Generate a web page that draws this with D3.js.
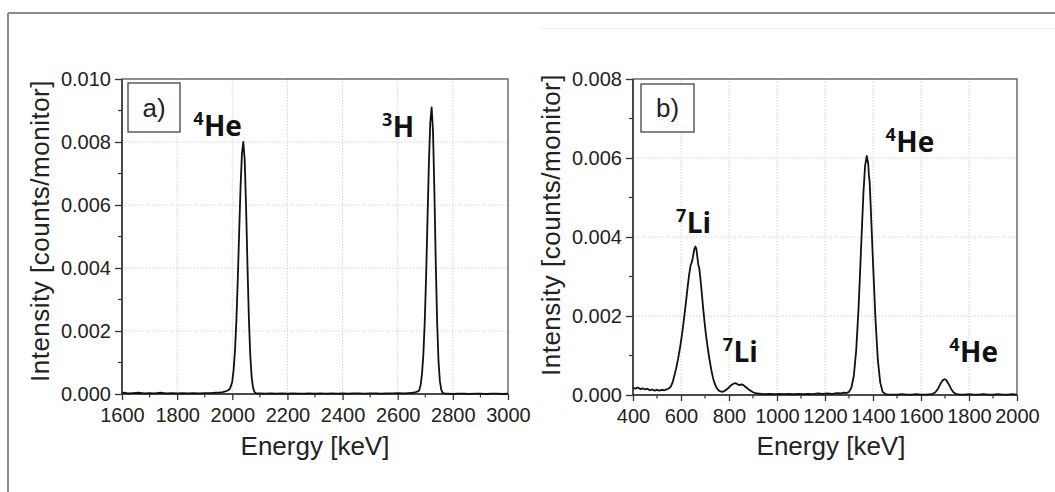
<!DOCTYPE html>
<html><head><meta charset="utf-8">
<script src="https://cdn.jsdelivr.net/npm/d3@7"></script>
<style>
html,body{margin:0;padding:0;background:#fff;}
svg{display:block;}
</style></head>
<body>
<svg id="chart" width="1055" height="492"></svg>
<script>
// ---------- DATA ----------
// Panel a) spectrum
const aEnergy = [1600,1610,1620,1640,1660,1680,1700,1720,1740,1760,1780,1800,1820,1840,1860,1880,1900,1920,1940,1955,1965,1975,1985,
  1990,1995,2000,2005,2010,2015,2020,2025,2030,2035,2040,2045,2050,2055,2060,2065,2070,2075,2080,2085,2090,
  2100,2120,2140,2160,2180,2200,2220,2240,2260,2280,2300,2320,2340,2360,2380,2400,2420,2440,2460,2480,2500,2520,2540,2560,2580,2600,2620,2640,2655,2665,2673,
  2678,2683,2688,2693,2698,2703,2708,2713,2718,2723,2728,2733,2738,2743,2748,2753,2758,2763,2770,
  2780,2800,2820,2840,2860,2880,2900,2920,2940,2960,2980,3000];
const aIntensity = [0.00003,0.00004,0.00002,0.00003,0.00004,0.00002,0.00003,0.00002,0.00004,0.00002,0.00003,0.00002,0.00003,0.00002,0.00003,0.00002,0.00003,0.00003,0.00004,0.00005,0.00006,0.00008,0.00012,
  0.00015,0.00025,0.00040,0.00078,0.00140,0.00236,0.00366,0.00515,0.00658,0.00762,0.00800,0.00743,0.00595,0.00411,0.00245,0.00126,0.00056,0.00021,0.00007,0.00003,0.00002,
  0.00002,0.00001,0.00002,0.00001,0.00002,0.00001,0.00002,0.00001,0.00001,0.00002,0.00001,0.00002,0.00001,0.00002,0.00001,0.00002,0.00001,0.00002,0.00002,0.00001,0.00002,0.00002,0.00001,0.00002,0.00002,0.00003,0.00002,0.00003,0.00004,0.00006,0.00008,
  0.00012,0.00028,0.00062,0.00125,0.00228,0.00374,0.00552,0.00729,0.00861,0.00910,0.00834,0.00643,0.00417,0.00227,0.00104,0.00040,0.00013,0.00004,0.00001,
  0.00001,0.00000,0.00001,0.00001,0.00000,0.00001,0.00001,0.00000,0.00001,0.00001,0.00000,0.00001];

// Panel b) spectrum
const bEnergy = [400,410,420,430,440,450,460,470,480,490,500,510,520,530,540,550,558,565,572,580,588,596,604,612,620,628,634,640,645,650,655,660,664,668,672,676,680,686,692,698,704,710,716,722,728,734,740,746,752,758,765,772,
  780,788,796,804,812,820,828,836,844,852,860,868,876,884,892,900,910,920,935,950,970,990,1010,1030,1050,1070,1090,1110,1130,1150,1170,1190,1210,1230,1250,1265,1280,1290,
  1300,1310,1320,1330,1340,1350,1360,1367,1374,1380,1383,1386,1390,1400,1410,1420,1430,1440,1450,1460,1480,1500,1520,1540,1560,1580,1600,1620,1640,
  1650,1660,1670,1680,1690,1698,1705,1715,1725,1735,1745,1760,1780,1800,1820,1840,1860,1880,1900,1920,1940,1960,1980,2000];
const bIntensity = [0.00018,0.00016,0.00019,0.00015,0.00017,0.00014,0.00016,0.00012,0.00014,0.00011,0.00013,0.00011,0.00013,0.00012,0.00014,0.00017,0.00022,0.00032,0.00048,0.00068,0.00092,0.00120,0.00152,0.00190,0.00232,0.00275,0.00305,0.00328,0.00336,0.00350,0.00368,0.00376,0.00370,0.00350,0.00330,0.00322,0.00300,0.00262,0.00222,0.00185,0.00152,0.00125,0.00100,0.00078,0.00058,0.00042,0.00030,0.00021,0.00015,0.00011,0.00009,0.00008,
  0.00010,0.00013,0.00017,0.00022,0.00026,0.00029,0.00030,0.00027,0.00025,0.00027,0.00025,0.00021,0.00017,0.00013,0.00010,0.00007,0.00005,0.00004,0.00003,0.00002,0.00003,0.00002,0.00003,0.00002,0.00003,0.00002,0.00003,0.00002,0.00003,0.00002,0.00004,0.00003,0.00004,0.00003,0.00005,0.00004,0.00006,0.00005,
  0.00008,0.00019,0.00048,0.00113,0.00222,0.00367,0.00510,0.00580,0.00605,0.00586,0.00555,0.00540,0.00484,0.00336,0.00196,0.00090,0.00032,0.00008,0.00003,0.00001,0.00001,0.00001,0.00002,0.00001,0.00001,0.00002,0.00001,0.00001,0.00002,
  0.00003,0.00007,0.00015,0.00027,0.00037,0.00040,0.00038,0.00028,0.00016,0.00007,0.00003,0.00001,0.00001,0.00002,0.00001,0.00001,0.00002,0.00001,0.00001,0.00002,0.00001,0.00001,0.00002,0.00001];

// Axis ticks and labels
const aXTicks = [1600,1800,2000,2200,2400,2600,2800,3000];
const aYTicks = [0,0.002,0.004,0.006,0.008,0.010];
const bXTicks = [400,600,800,1000,1200,1400,1600,1800,2000];
const bYTicks = [0,0.002,0.004,0.006,0.008];
const xTitle = "Energy [keV]";
const yTitle = "Intensity [counts/monitor]";
const panelTags = ["a)","b)"];

// Peak annotations: [mass number, element, energy, intensity of baseline]
const aPeakLabels = [["4","He",1858,0.00819],["3","H",2543,0.00817]];
const bPeakLabels = [["7","Li",579,0.00410],["7","Li",774,0.00083],["4","He",1452,0.00615],["4","He",1718,0.00083]];

// ---------- DRAW ----------
const svg = d3.select("#chart");
const SANS = "'Liberation Sans', Arial, Helvetica, sans-serif";
const BOLD = "'Open Sans', 'Noto Sans', sans-serif";

// outer frame lines
svg.append("line").attr("x1",8).attr("x2",1055).attr("y1",13).attr("y2",13).attr("stroke","#8a8a8a").attr("stroke-width",2);
svg.append("line").attr("x1",8).attr("x2",8).attr("y1",13).attr("y2",492).attr("stroke","#8a8a8a").attr("stroke-width",2);
svg.append("line").attr("x1",540).attr("x2",1055).attr("y1",28.5).attr("y2",28.5).attr("stroke","#f0f0f0").attr("stroke-width",1);

function panel(cfg){
  const {x0,x1,y0,y1,xDom,yDom,xTicks,yTicks,xMinorStep,yMinorStep,energy,intensity,labels,tag,tagBox,yTitlePos,xTitlePos} = cfg;
  const x = d3.scaleLinear().domain(xDom).range([x0,x1]);
  const y = d3.scaleLinear().domain(yDom).range([y1,y0]);
  const g = svg.append("g");

  // grid
  g.selectAll(".gx").data(xTicks.filter(v=>v>xDom[0]&&v<xDom[1])).join("line")
    .attr("x1",d=>x(d)).attr("x2",d=>x(d)).attr("y1",y0).attr("y2",y1)
    .attr("stroke","#d4d4d4").attr("stroke-width",1).attr("stroke-dasharray","1.5,1.5");
  g.selectAll(".gy").data(yTicks.filter(v=>v>yDom[0]&&v<yDom[1]-1e-9)).join("line")
    .attr("x1",x0).attr("x2",x1).attr("y1",d=>y(d)).attr("y2",d=>y(d))
    .attr("stroke","#d4d4d4").attr("stroke-width",1).attr("stroke-dasharray","1.5,1.5");

  // minor ticks
  const xMinor = d3.range(xDom[0], xDom[1]+1e-9, xMinorStep).filter(v=>!xTicks.some(t=>Math.abs(t-v)<1e-6));
  g.selectAll(".mx").data(xMinor).join("line")
    .attr("x1",d=>x(d)).attr("x2",d=>x(d)).attr("y1",y1).attr("y2",y1+3.5)
    .attr("stroke","#333").attr("stroke-width",1.2);
  const yMinor = d3.range(yDom[0], yDom[1]+1e-9, yMinorStep).filter(v=>!yTicks.some(t=>Math.abs(t-v)<1e-9));
  g.selectAll(".my").data(yMinor).join("line")
    .attr("x1",x0-4).attr("x2",x0).attr("y1",d=>y(d)).attr("y2",d=>y(d))
    .attr("stroke","#333").attr("stroke-width",1.2);

  // axes
  const ax = g.append("g").attr("transform",`translate(0,${y1})`)
    .call(d3.axisBottom(x).tickValues(xTicks).tickSize(6).tickPadding(8).tickFormat(d3.format("d")));
  const ay = g.append("g").attr("transform",`translate(${x0},0)`)
    .call(d3.axisLeft(y).tickValues(yTicks).tickSize(7).tickPadding(4).tickFormat(d3.format(".3f")));
  [ax,ay].forEach(a=>{
    a.select(".domain").remove();
    a.selectAll(".tick line").attr("stroke","#333").attr("stroke-width",1.3);
    a.selectAll(".tick text").attr("fill","#222").style("font-family",SANS).style("font-size","20px");
  });

  // frame
  g.append("rect").attr("x",x0).attr("y",y0).attr("width",x1-x0).attr("height",y1-y0)
    .attr("fill","none").attr("stroke","#555").attr("stroke-width",1.3);
  g.append("line").attr("x1",x0).attr("x2",x1).attr("y1",y1).attr("y2",y1).attr("stroke","#333").attr("stroke-width",1.5);
  g.append("line").attr("x1",x0).attr("x2",x0).attr("y1",y0).attr("y2",y1).attr("stroke","#333").attr("stroke-width",1.5);

  // curve
  const pts = energy.map((e,i)=>[e,intensity[i]]);
  g.append("path").datum(pts)
    .attr("d", d3.line().x(d=>x(d[0])).y(d=>y(d[1])))
    .attr("fill","none").attr("stroke","#111").attr("stroke-width",1.8).attr("stroke-linejoin","round");

  // panel tag box
  g.append("rect").attr("x",tagBox[0]).attr("y",tagBox[1]).attr("width",tagBox[2]).attr("height",tagBox[3])
    .attr("fill","#fff").attr("stroke","#444").attr("stroke-width",1.3);
  g.append("text").attr("x",tagBox[0]+tagBox[2]/2).attr("y",tagBox[1]+tagBox[3]/2+9)
    .attr("text-anchor","middle").style("font-family",SANS).style("font-size","26px").attr("fill","#222").text(tag);

  // peak labels
  labels.forEach(([mass,el,e,v])=>{
    const t = g.append("text").attr("x",x(e)).attr("y",y(v)).style("font-family",BOLD).style("font-weight","700").attr("fill","#111");
    t.append("tspan").text(mass).style("font-size","18px").attr("dy",-11);
    t.append("tspan").text(el).style("font-size","28px").attr("dy",11).attr("dx",0.5);
  });

  // titles
  g.append("text").attr("x",xTitlePos[0]).attr("y",xTitlePos[1]).attr("text-anchor","middle")
    .style("font-family",SANS).style("font-size","26px").attr("fill","#222").text(xTitle);
  g.append("text").attr("transform",`translate(${yTitlePos[0]},${yTitlePos[1]}) rotate(-90)`).attr("text-anchor","middle")
    .attr("dy","0.35em").style("font-family",SANS).style("font-size","26px").style("letter-spacing","0.5px").attr("fill","#222").text(yTitle);
}

panel({x0:122,x1:508,y0:79,y1:394,xDom:[1600,3000],yDom:[0,0.010],xTicks:aXTicks,yTicks:aYTicks,xMinorStep:100,yMinorStep:0.001,
  energy:aEnergy,intensity:aIntensity,labels:aPeakLabels,tag:panelTags[0],tagBox:[128,83,52,49],yTitlePos:[40,231],xTitlePos:[315,455]});
panel({x0:633,x1:1017,y0:79,y1:395,xDom:[400,2000],yDom:[0,0.008],xTicks:bXTicks,yTicks:bYTicks,xMinorStep:100,yMinorStep:0.001,
  energy:bEnergy,intensity:bIntensity,labels:bPeakLabels,tag:panelTags[1],tagBox:[641,84,53,48],yTitlePos:[551,225],xTitlePos:[831,455]});
</script>
</body></html>
